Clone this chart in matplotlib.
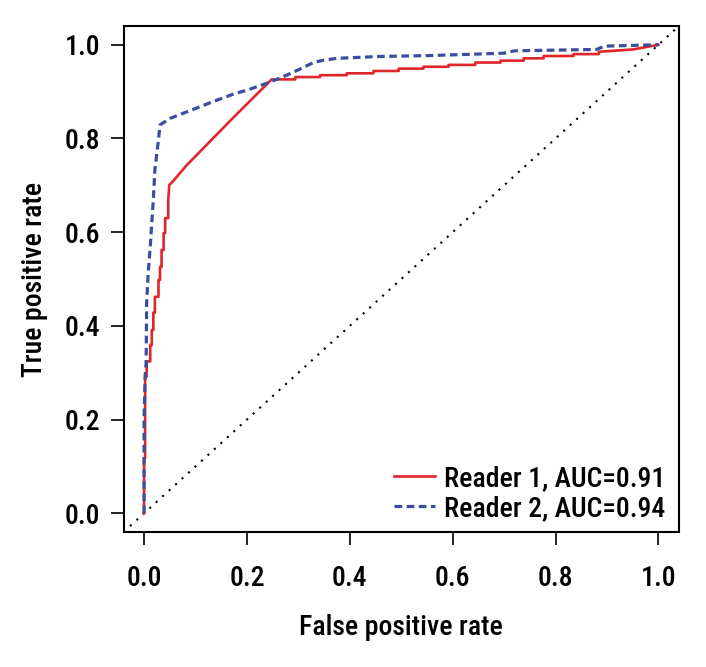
import matplotlib
matplotlib.use("Agg")
import matplotlib.pyplot as plt
from matplotlib import font_manager

# ROC curve vertices (false positive rate, true positive rate)
reader1_fpr = [0.0, 0.0, 0.002, 0.002, 0.005, 0.005, 0.012, 0.012, 0.015, 0.015,
               0.018, 0.018, 0.021, 0.021, 0.028, 0.028, 0.031, 0.031, 0.034, 0.034,
               0.038, 0.038, 0.041, 0.041, 0.047, 0.047, 0.049, 0.054, 0.083, 0.173,
               0.248, 0.294, 0.294, 0.342, 0.342, 0.394, 0.394, 0.446, 0.446, 0.495,
               0.495, 0.543, 0.543, 0.592, 0.592, 0.644, 0.644, 0.693, 0.693, 0.738,
               0.738, 0.777, 0.777, 0.835, 0.835, 0.884, 0.884, 0.951, 1.0]
reader1_tpr = [0.0, 0.118, 0.118, 0.292, 0.292, 0.324, 0.324, 0.359, 0.359, 0.391,
               0.391, 0.428, 0.428, 0.462, 0.462, 0.498, 0.498, 0.526, 0.526, 0.562,
               0.562, 0.598, 0.598, 0.630, 0.630, 0.669, 0.701, 0.706, 0.743, 0.844,
               0.926, 0.926, 0.931, 0.931, 0.935, 0.935, 0.939, 0.939, 0.944, 0.944,
               0.949, 0.949, 0.953, 0.953, 0.957, 0.957, 0.962, 0.962, 0.966, 0.966,
               0.971, 0.971, 0.976, 0.976, 0.980, 0.980, 0.985, 0.990, 1.0]

reader2_fpr = [0.0, 0.0, 0.002, 0.004, 0.005, 0.008, 0.012, 0.015, 0.018, 0.021,
               0.028, 0.031, 0.051, 0.093, 0.135, 0.177, 0.200, 0.239, 0.271, 0.307,
               0.329, 0.349, 0.375, 0.459, 0.560, 0.700, 0.720, 0.880, 0.895, 1.0]
reader2_tpr = [0.0, 0.199, 0.292, 0.320, 0.449, 0.513, 0.569, 0.620, 0.669, 0.733,
               0.797, 0.829, 0.843, 0.861, 0.879, 0.896, 0.903, 0.918, 0.932, 0.950,
               0.962, 0.967, 0.971, 0.975, 0.977, 0.982, 0.987, 0.990, 0.997, 1.0]

labels = ["Reader 1, AUC=0.91", "Reader 2, AUC=0.94"]
ticks = [0.0, 0.2, 0.4, 0.6, 0.8, 1.0]

RED = "#e0262b"
BLUE = "#3a4d9e"

# pick a condensed sans if one is around
installed = {f.name for f in font_manager.fontManager.ttflist}
family = "DejaVu Sans"
for cand in ["Liberation Sans Narrow", "Roboto Condensed", "Open Sans Condensed", "Liberation Sans"]:
    if cand in installed:
        family = cand
        break
plt.rcParams["font.family"] = [family, "DejaVu Sans"]
plt.rcParams["font.size"] = 20
plt.rcParams["font.weight"] = "medium"
plt.rcParams["axes.labelweight"] = "medium"

fig = plt.figure(figsize=(7.06, 6.67), dpi=100)
ax = fig.add_axes([123.5 / 706, 135 / 667, 555.5 / 706, 506 / 667])

ax.axline((0, 0), slope=1, color="black", lw=1.5, linestyle=(0, (1, 3.2)))
ax.plot(reader1_fpr, reader1_tpr, color=RED, lw=1.9, label=labels[0])
ax.plot(reader2_fpr, reader2_tpr, color=BLUE, lw=2.3, linestyle=(0, (2.4, 1.4)), label=labels[1])

ax.set_xlim(-0.04, 1.04)
ax.set_ylim(-0.04, 1.04)
ax.set_xticks(ticks)
ax.set_yticks(ticks)
ax.set_xticklabels([f"{t:.1f}" for t in ticks])
ax.set_yticklabels([f"{t:.1f}" for t in ticks])
ax.tick_params(axis="both", direction="out", length=9.5, width=1.2, color="black")
ax.tick_params(axis="x", pad=14)
ax.tick_params(axis="y", pad=7)
for sp in ax.spines.values():
    sp.set_linewidth(1.5)

ax.set_xlabel("False positive rate")
ax.set_ylabel("True positive rate")
ax.xaxis.set_label_coords(0.5, -0.163)
ax.yaxis.set_label_coords(-0.136, 0.5)

ax.legend(loc="lower right", frameon=False, bbox_to_anchor=(0.975, 0.02),
          borderaxespad=0, borderpad=0, handlelength=1.5, handletextpad=0.3,
          labelspacing=0.1)

fig.savefig("out.png", dpi=100)
